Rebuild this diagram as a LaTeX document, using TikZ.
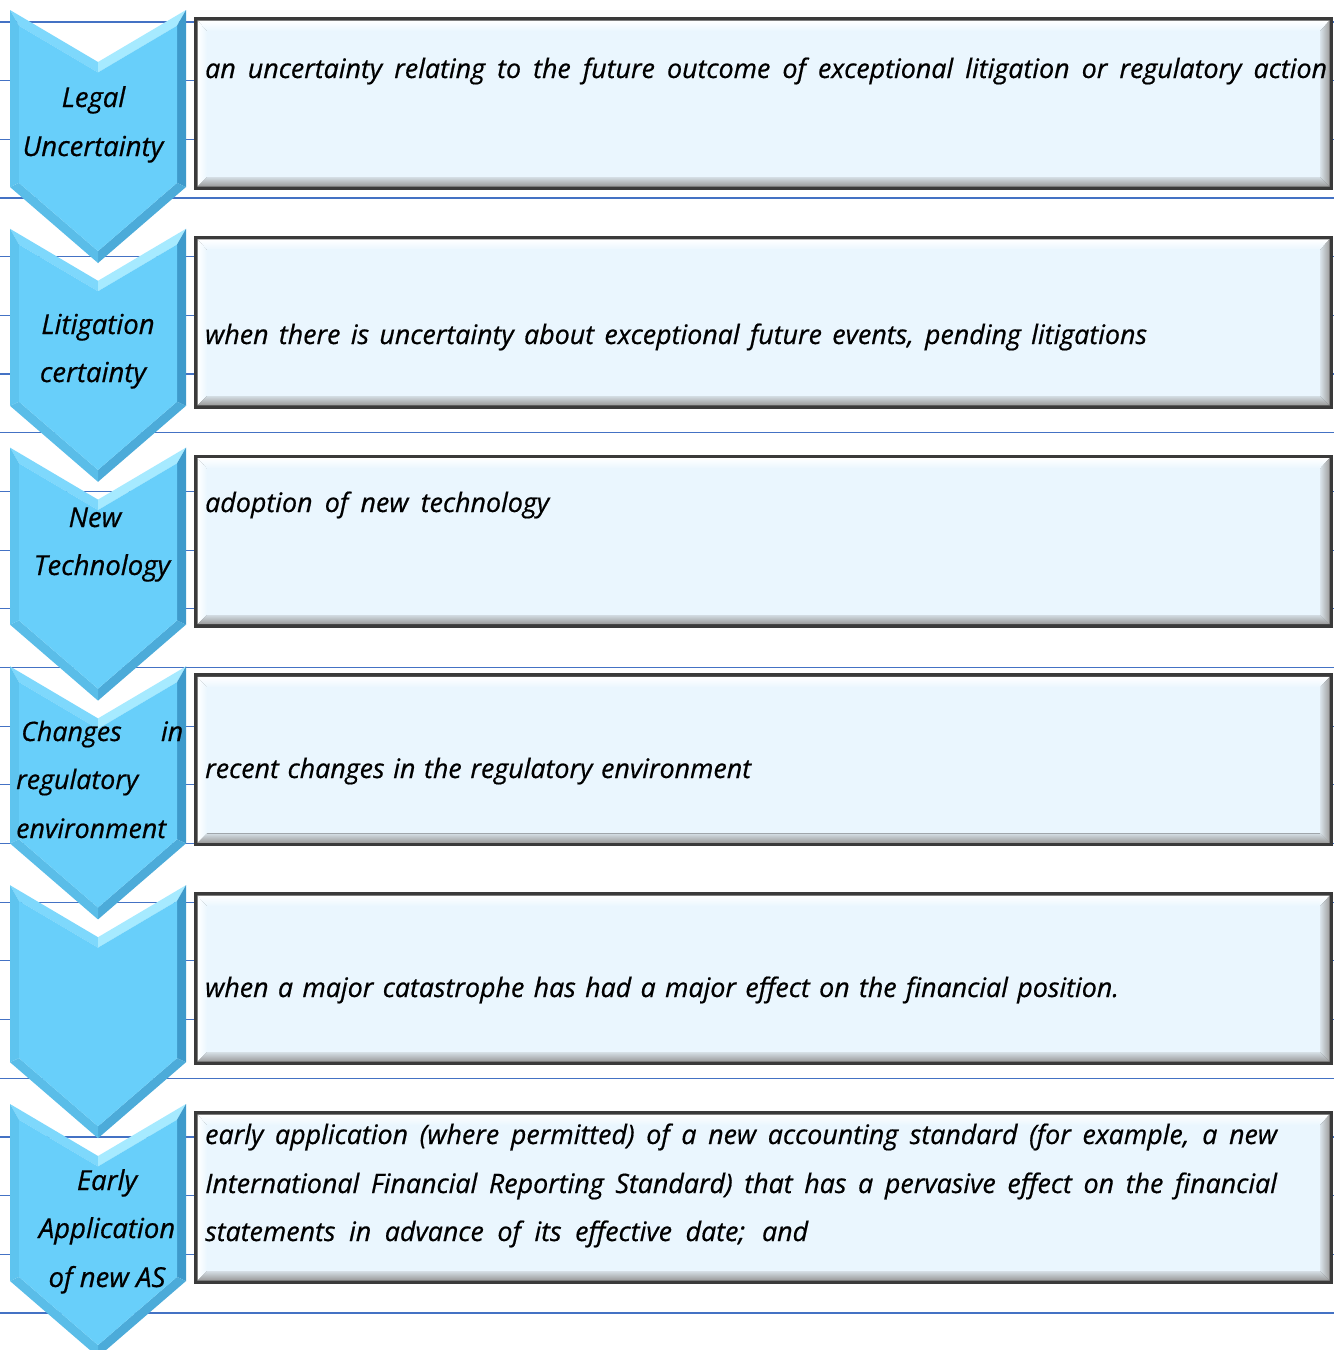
\documentclass[tikz,border=0pt]{standalone}
\usepackage{fontspec}
\setmainfont{Open Sans}
\newfontfamily\handfont{Open Sans}[ItalicFeatures={FakeBold=0.6}]
\begin{document}
\begin{tikzpicture}[x=1pt,y=-1pt,
  guide/.style={draw=guideblue,line width=1.2pt},
  cvface/.style={fill=cvbase},
  cvTL/.style={fill=cvtl}, cvTR/.style={fill=cvtr}, cvR/.style={fill=cvr},
  cvBR/.style={fill=cvbr}, cvBL/.style={fill=cvbl}, cvL/.style={fill=cvl},
  boxrim/.style={fill=rimgray},
  boxface/.style={fill=boxblue},
  txt/.style={font=\handfont\fontsize{26.8}{32}\selectfont\itshape, inner sep=0pt, anchor=base west, text=black},
  ctxt/.style={font=\handfont\fontsize{27.5}{32}\selectfont\itshape, inner sep=0pt, anchor=base, text=black}]
\definecolor{guideblue}{HTML}{4472C4}
\definecolor{cvbase}{HTML}{68CFFA}
\definecolor{cvtl}{HTML}{7ED8FC}
\definecolor{cvtr}{HTML}{A6EAFF}
\definecolor{cvr}{HTML}{3E9ACB}
\definecolor{cvbr}{HTML}{4CABD9}
\definecolor{cvbl}{HTML}{5ABDE8}
\definecolor{cvl}{HTML}{5EC4EF}
\definecolor{rimgray}{HTML}{3A3A3A}
\definecolor{boxblue}{HTML}{EAF6FE}
\useasboundingbox (0,0) rectangle (1334,1350);
\clip (0,0) rectangle (1334,1350);
\fill[white] (0,0) rectangle (1334,1350);
% guide lines
\foreach \k in {0,...,22}{
  \draw[guide] (0,22+58.68*\k) -- (1334,22+58.68*\k);
}
% chevrons and panels
\foreach \yo in {10,228.8,447.6,666.4,885.2,1104}{
\begin{scope}[shift={(0,\yo)}]
 \fill[cvTL] (10,0) -- (98,52) -- (98,62.5) -- (19,15.8) -- cycle;
 \fill[cvTR] (98,52) -- (186,0) -- (177,15.8) -- (98,62.5) -- cycle;
 \fill[cvR] (186,0) -- (186,177) -- (177,172.9) -- (177,15.8) -- cycle;
 \fill[cvBR] (186,177) -- (98,253) -- (98,241.1) -- (177,172.9) -- cycle;
 \fill[cvBL] (98,253) -- (10,177) -- (19,172.9) -- (98,241.1) -- cycle;
 \fill[cvL] (10,177) -- (10,0) -- (19,15.8) -- (19,172.9) -- cycle;
 \fill[cvface] (19,15.8) -- (98,62.5) -- (177,15.8) -- (177,172.9) -- (98,241.1) -- (19,172.9) -- cycle;
 % panel
 \fill[boxrim] (194,7) rectangle (1333,180);
 \shade[top color=white, bottom color=boxblue] (197.5,10.5) -- (1329.5,10.5) -- (1320,21) -- (207,21) -- cycle;
 \shade[left color=white, right color=boxblue] (197.5,10.5) -- (207,21) -- (207,167) -- (197.5,176.5) -- cycle;
 \shade[left color=boxblue!85!gray, right color=gray!75] (1329.5,10.5) -- (1329.5,176.5) -- (1320,167) -- (1320,21) -- cycle;
 \shade[top color=boxblue!80!gray, bottom color=gray!80] (197.5,176.5) -- (207,167) -- (1320,167) -- (1329.5,176.5) -- cycle;
 \fill[boxface] (207,20.5) rectangle (1320,167);
\end{scope}
}
% chevron labels
\node[ctxt] (c1a) at (93.5,107) {Legal};
\node[ctxt] (c1b) at (93,156) {Uncertainty};
\node[ctxt] (c2a) at (98,334) {Litigation};
\node[ctxt] (c2b) at (93,382) {certainty};
\node[ctxt] (c3a) at (95,527) {New};
\node[ctxt] (c3b) at (102,575) {Technology};
\node[txt] (c4a) at (21,741) {\makebox[162pt][s]{Changes in}};
\node[txt] (c4b) at (16,789) {regulatory};
\node[txt] (c4c) at (16,838) {environment};
\node[ctxt] (c6a) at (107,1190) {Early};
\node[ctxt] (c6b) at (107,1238) {Application};
\node[ctxt] (c6c) at (107,1287) {of new AS};
% panel texts
\node[txt] (t1) at (205,78) {\makebox[1122pt][s]{an uncertainty relating to the future outcome of exceptional litigation or regulatory action}};
\node[txt] (t2) at (205,344) {\makebox[942pt][s]{when there is uncertainty about exceptional future events, pending litigations}};
\node[txt] (t3) at (205,512) {\makebox[344pt][s]{adoption of new technology}};
\node[txt] (t4) at (205,778) {\makebox[546pt][s]{recent changes in the regulatory environment}};
\node[txt] (t5) at (205,997) {\makebox[914pt][s]{when a major catastrophe has had a major effect on the financial position.}};
\node[txt] (t6a) at (205,1144) {\makebox[1072pt][s]{early application (where permitted) of a new accounting standard (for example, a new}};
\node[txt] (t6b) at (205,1193) {\makebox[1072pt][s]{International Financial Reporting Standard) that has a pervasive effect on the financial}};
\node[txt] (t6c) at (205,1241) {\makebox[603pt][s]{statements in advance of its effective date; and}};
\end{tikzpicture}
\end{document}
